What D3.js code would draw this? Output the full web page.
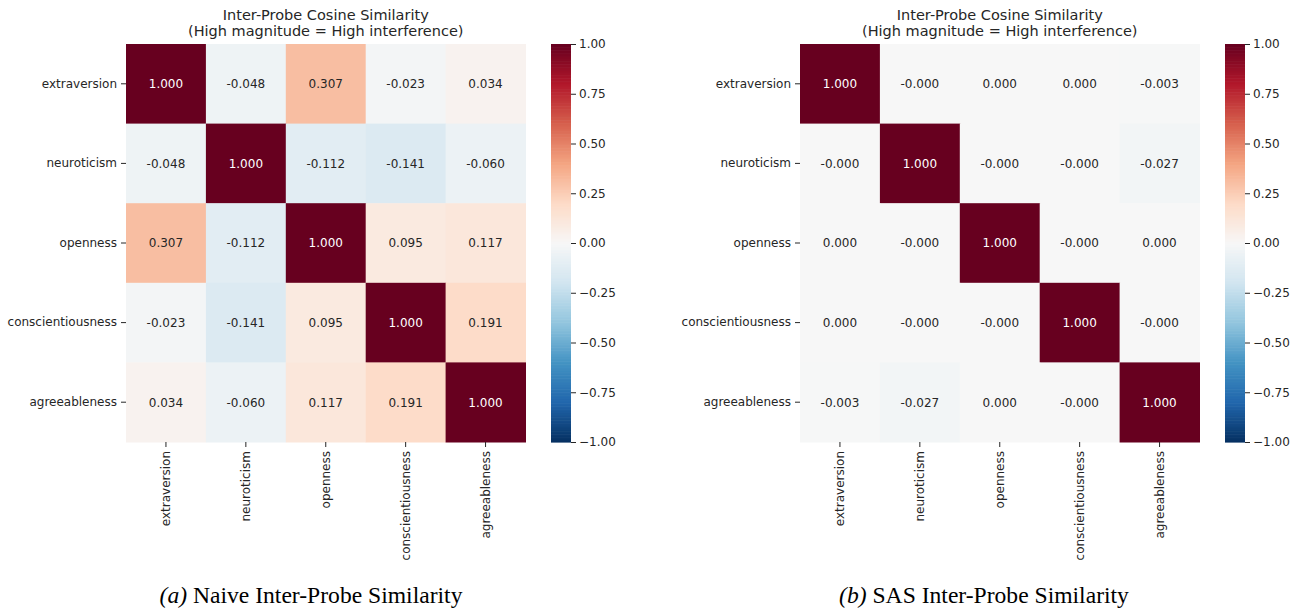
<!DOCTYPE html>
<html>
<head>
<meta charset="utf-8">
<script src="https://cdn.jsdelivr.net/npm/d3@7"></script>
<style>
  html, body { margin: 0; padding: 0; background: #ffffff; }
  svg { display: block; }
  .tick text { fill: #262626; }
  .tick line { stroke: #262626; }
</style>
</head>
<body>
<svg id="chart" width="1301" height="612"></svg>
<script>
// Big Five trait probes compared in both panels
const traits = ["extraversion", "neuroticism", "openness", "conscientiousness", "agreeableness"];

// Pairwise cosine similarity of the naive probes (rows x columns)
const naiveSimilarity = [
  [1.000, -0.048, 0.307, -0.023, 0.034],
  [-0.048, 1.000, -0.112, -0.141, -0.060],
  [0.307, -0.112, 1.000, 0.095, 0.117],
  [-0.023, -0.141, 0.095, 1.000, 0.191],
  [0.034, -0.060, 0.117, 0.191, 1.000]
];

// Pairwise cosine similarity of the SAS probes (tiny residuals round to ±0.000)
const sasSimilarity = [
  [1.000, -0.0002, 0.0002, 0.0002, -0.003],
  [-0.0002, 1.000, -0.0002, -0.0002, -0.027],
  [0.0002, -0.0002, 1.000, -0.0002, 0.0002],
  [0.0002, -0.0002, -0.0002, 1.000, -0.0002],
  [-0.003, -0.027, 0.0002, -0.0002, 1.000]
];

// Colour bar ticks
const colorbarTicks = [1.00, 0.75, 0.50, 0.25, 0.00, -0.25, -0.50, -0.75, -1.00];

// Diverging RdBu colormap, reversed (blue = -1, red = +1)
const rdbuStops = ["#053061", "#2166ac", "#4393c3", "#92c5de", "#d1e5f0", "#f7f7f7",
                   "#fddbc7", "#f4a582", "#d6604d", "#b2182b", "#67001f"];

const titleLines = ["Inter-Probe Cosine Similarity", "(High magnitude = High interference)"];

const panels = [
  { matrix: naiveSimilarity, left: 126, tag: "(a)", caption: " Naive Inter-Probe Similarity", captionX: 311 },
  { matrix: sasSimilarity, left: 800, tag: "(b)", caption: " SAS Inter-Probe Similarity", captionX: 984 }
];

const svg = d3.select("#chart");
const FONT = "'DejaVu Sans', sans-serif";
const LABEL_SIZE = "12px";
const plotTop = 44, plotBottom = 442, side = 399.5;

const color = d3.scaleLinear()
  .domain(d3.range(rdbuStops.length).map(i => -1 + 2 * i / (rdbuStops.length - 1)))
  .range(rdbuStops)
  .interpolate(d3.interpolateRgb)
  .clamp(true);

function textColour(c) {
  const rgb = d3.rgb(c);
  const lin = v => { v /= 255; return v <= 0.03928 ? v / 12.92 : Math.pow((v + 0.055) / 1.055, 2.4); };
  const lum = 0.2126 * lin(rgb.r) + 0.7152 * lin(rgb.g) + 0.0722 * lin(rgb.b);
  return lum > 0.408 ? "#262626" : "#ffffff";
}

panels.forEach(p => {
  const g = svg.append("g");
  const x = d3.scaleBand().domain(traits).range([p.left, p.left + side]);
  const y = d3.scaleBand().domain(traits).range([plotTop, plotBottom]);

  const cells = [];
  p.matrix.forEach((row, i) => row.forEach((v, j) => cells.push({ r: traits[i], c: traits[j], v })));

  g.selectAll("rect.cell").data(cells).enter().append("rect")
    .attr("class", "cell")
    .attr("x", d => x(d.c))
    .attr("y", d => y(d.r))
    .attr("width", x.bandwidth() + 0.5)
    .attr("height", y.bandwidth() + 0.5)
    .attr("fill", d => color(d.v));

  g.selectAll("text.annot").data(cells).enter().append("text")
    .attr("class", "annot")
    .attr("x", d => x(d.c) + x.bandwidth() / 2)
    .attr("y", d => y(d.r) + y.bandwidth() / 2)
    .attr("dy", "0.36em")
    .attr("text-anchor", "middle")
    .style("font-family", FONT)
    .style("font-size", LABEL_SIZE)
    .attr("fill", d => textColour(color(d.v)))
    .text(d => d.v.toFixed(3));

  // Row labels
  const yAxis = g.append("g")
    .attr("transform", `translate(${p.left},0)`)
    .call(d3.axisLeft(y).tickSize(5).tickPadding(4));
  yAxis.select(".domain").remove();
  yAxis.selectAll("text").style("font-family", FONT).style("font-size", LABEL_SIZE);

  // Column labels, rotated
  const xAxis = g.append("g")
    .attr("transform", `translate(0,${plotBottom})`)
    .call(d3.axisBottom(x).tickSize(5).tickPadding(4));
  xAxis.select(".domain").remove();
  xAxis.selectAll("text")
    .style("font-family", FONT).style("font-size", LABEL_SIZE)
    .attr("text-anchor", "end")
    .attr("transform", "rotate(-90)")
    .attr("x", -9).attr("y", 0).attr("dy", "0.35em");

  // Title
  const cx = p.left + side / 2;
  g.append("text")
    .attr("x", cx).attr("y", 19.5)
    .attr("text-anchor", "middle")
    .style("font-family", FONT).style("font-size", "14.5px").attr("fill", "#262626")
    .selectAll("tspan").data(titleLines).enter().append("tspan")
    .attr("x", cx).attr("dy", (d, i) => i === 0 ? 0 : 16.7)
    .text(d => d);

  // Colour bar
  const cbLeft = p.left + 425, cbWidth = 20;
  const cbScale = d3.scaleLinear().domain([-1, 1]).range([plotBottom, plotTop]);
  const nSteps = 256;
  const steps = d3.range(nSteps).map(i => -1 + 2 * (i + 0.5) / nSteps);
  const stepH = (plotBottom - plotTop) / nSteps;
  g.selectAll("rect.cb").data(steps).enter().append("rect")
    .attr("class", "cb")
    .attr("x", cbLeft)
    .attr("y", d => cbScale(d) - stepH / 2)
    .attr("width", cbWidth)
    .attr("height", stepH + 0.6)
    .attr("fill", d => color(d));
  const cbAxis = g.append("g")
    .attr("transform", `translate(${cbLeft + cbWidth},0)`)
    .call(d3.axisRight(cbScale).tickValues(colorbarTicks).tickFormat(d3.format(".2f")).tickSize(5).tickPadding(3));
  cbAxis.select(".domain").remove();
  cbAxis.selectAll("text").style("font-family", FONT).style("font-size", LABEL_SIZE);

  // Sub-figure caption
  const cap = svg.append("text")
    .attr("x", p.captionX).attr("y", 603)
    .attr("text-anchor", "middle")
    .style("font-family", "'Liberation Serif', 'Times New Roman', serif")
    .style("font-size", "23.6px")
    .attr("fill", "#000");
  cap.append("tspan").style("font-style", "italic").text(p.tag);
  cap.append("tspan").text(p.caption);
});
</script>
</body>
</html>
